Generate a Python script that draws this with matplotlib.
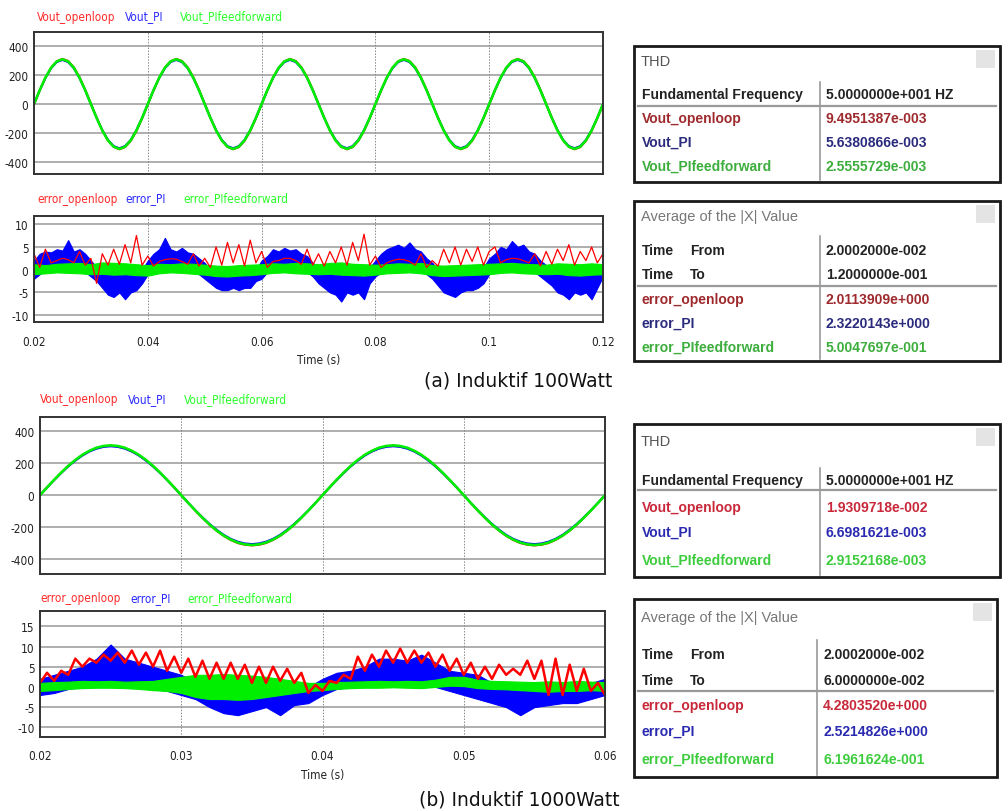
import os
import numpy as np
import matplotlib
matplotlib.use("Agg")
import matplotlib.pyplot as plt
from matplotlib import font_manager
from matplotlib.font_manager import FontProperties
from matplotlib.patches import Rectangle
from matplotlib.lines import Line2D

W, H = 1008, 812

# ---------------- data: (a) Induktif 100Watt ----------------
# output voltage, sampled every 1 ms from 0.020 s to 0.120 s
vout_openloop_a = [
    -3, 93, 182, 252, 297, 314, 299, 256, 187, 100, 3, -93, -182, -252, -297, -314, -299, -256, -187, -100,
    -3, 93, 182, 252, 297, 314, 299, 256, 187, 100, 3, -93, -182, -252, -297, -314, -299, -256, -187, -100,
    -3, 93, 182, 252, 297, 314, 299, 256, 187, 100, 3, -93, -182, -252, -297, -314, -299, -256, -187, -100,
    -3, 93, 182, 252, 297, 314, 299, 256, 187, 100, 3, -93, -182, -252, -297, -314, -299, -256, -187, -100,
    -3, 93, 182, 252, 297, 314, 299, 256, 187, 100, 3, -93, -182, -252, -297, -314, -299, -256, -187, -100,
    -3]
vout_pi_a = [
    0, 95, 180, 248, 291, 306, 291, 248, 180, 95, 0, -95, -180, -248, -291, -306, -291, -248, -180, -95,
    0, 95, 180, 248, 291, 306, 291, 248, 180, 95, 0, -95, -180, -248, -291, -306, -291, -248, -180, -95,
    0, 95, 180, 248, 291, 306, 291, 248, 180, 95, 0, -95, -180, -248, -291, -306, -291, -248, -180, -95,
    0, 95, 180, 248, 291, 306, 291, 248, 180, 95, 0, -95, -180, -248, -291, -306, -291, -248, -180, -95,
    0, 95, 180, 248, 291, 306, 291, 248, 180, 95, 0, -95, -180, -248, -291, -306, -291, -248, -180, -95,
    0]
vout_piff_a = [
    0, 96, 183, 252, 296, 311, 296, 252, 183, 96, 0, -96, -183, -252, -296, -311, -296, -252, -183, -96,
    0, 96, 183, 252, 296, 311, 296, 252, 183, 96, 0, -96, -183, -252, -296, -311, -296, -252, -183, -96,
    0, 96, 183, 252, 296, 311, 296, 252, 183, 96, 0, -96, -183, -252, -296, -311, -296, -252, -183, -96,
    0, 96, 183, 252, 296, 311, 296, 252, 183, 96, 0, -96, -183, -252, -296, -311, -296, -252, -183, -96,
    0, 96, 183, 252, 296, 311, 296, 252, 183, 96, 0, -96, -183, -252, -296, -311, -296, -252, -183, -96,
    0]

error_openloop_a = [
    3.5, 0.5, 4.5, 1.5, 2.0, 2.5, 2.2, 1.5, 4.0, 1.0,
    2.5, -3.0, 3.5, 1.0, 4.5, 1.2, 5.5, 1.5, 7.5, 1.0,
    3.0, 0.8, 1.8, 2.2, 2.4, 2.3, 1.8, 1.2, 3.5, 0.8,
    2.5, 0.5, 5.0, 1.0, 6.0, 1.5, 5.5, 0.8, 6.5, 1.5,
    4.0, 0.5, 1.8, 2.0, 2.5, 2.5, 2.0, 1.2, 4.5, 1.0,
    3.5, 0.8, 4.0, 1.5, 5.0, 1.0, 6.0, 2.0, 7.8, 1.0,
    3.0, 0.5, 1.5, 2.0, 2.3, 2.2, 1.8, 1.0, 3.5, 0.5,
    2.0, 0.8, 4.5, 1.5, 5.0, 1.0, 4.5, 1.8, 5.0, 1.0,
    4.0, 5.0, 1.5, 2.2, 2.5, 2.4, 2.0, 1.5, 3.5, 0.8,
    4.0, 1.2, 4.5, 2.0, 5.5, 1.0, 4.0, 2.0, 5.0, 1.5,
    3.5]
# error_PI band (upper / lower envelope), every 1 ms
error_pi_a_hi = [
    2.0, 3.5, 4.0, 3.8, 4.5, 4.2, 6.5, 4.0, 4.5, 3.5,
    2.0, 0.5, -0.5, -1.0, -0.8, -1.2, -1.0, -0.5, -1.0, 0.0,
    2.0, 3.5, 4.5, 7.0, 4.5, 4.0, 4.8, 3.8, 3.5, 2.5,
    1.5, 0.0, -0.5, -1.0, -0.8, -1.2, -1.0, -0.8, -1.0, 0.0,
    2.0, 3.0, 4.5, 4.0, 4.8, 4.2, 4.5, 3.5, 3.0, 1.5,
    0.5, -0.5, -0.8, -1.2, -1.0, -1.2, -0.8, -1.0, -0.5, 0.5,
    2.0, 3.5, 4.5, 5.0, 5.5, 4.8, 6.0, 4.5, 4.0, 2.5,
    1.5, 0.0, -0.5, -1.0, -0.8, -1.2, -1.0, -0.5, -0.8, 0.5,
    2.5, 3.5, 5.0, 4.5, 6.3, 5.0, 5.5, 4.0, 3.5, 2.0,
    1.0, -0.5, -0.8, -1.0, -1.2, -0.8, -1.0, -0.5, -0.8, 0.0,
    1.0]
error_pi_a_lo = [
    -2.0, -1.0, 0.0, 0.5, 0.8, 1.0, 0.8, 0.5, 0.5, -0.5,
    -1.5, -2.5, -4.0, -5.5, -6.0, -5.0, -6.5, -5.0, -4.5, -3.0,
    -1.0, 0.0, 0.5, 0.8, 1.0, 1.0, 0.8, 0.5, -0.5, -1.0,
    -2.0, -3.0, -4.0, -4.5, -4.5, -4.0, -4.5, -4.0, -4.0, -2.5,
    -2.0, -0.5, 0.0, 0.5, 1.0, 1.0, 0.8, 0.5, -0.5, -1.5,
    -3.0, -4.0, -5.0, -5.5, -7.0, -5.0, -5.5, -5.0, -6.5, -3.0,
    -1.5, -0.5, 0.5, 0.8, 1.0, 1.0, 1.0, 0.5, 0.0, -1.0,
    -2.0, -3.5, -5.0, -5.5, -6.0, -5.0, -4.5, -4.5, -4.0, -3.0,
    -1.0, 0.0, 0.5, 0.8, 1.0, 1.0, 0.8, 0.5, -0.5, -1.5,
    -2.5, -3.5, -5.0, -5.5, -6.5, -5.0, -5.5, -5.0, -6.5, -4.0,
    -1.5]
# error_PIfeedforward band, every 2 ms
error_piff_a_hi = [
    1.2, 1.0, 1.3, 1.4, 1.5, 1.2, 1.6, 1.5, 1.4, 1.2, 1.0,
    1.3, 1.2, 1.4, 1.3, 1.1, 0.9, 0.8, 1.0, 1.1, 1.2,
    1.4, 1.3, 1.5, 1.4, 1.2, 1.5, 1.6, 1.3, 1.2, 1.1,
    1.2, 1.4, 1.3, 1.5, 1.0, 0.9, 1.0, 1.1, 1.2, 1.3,
    1.4, 1.5, 1.3, 1.2, 1.1, 1.4, 1.3, 1.2, 1.4, 1.2]
error_piff_a_lo = [
    -1.0, -0.8, -0.6, -0.7, -0.8, -1.0, -0.9, -1.1, -1.0, -1.2, -1.3,
    -0.8, -0.6, -0.7, -0.9, -1.1, -1.4, -1.5, -1.3, -1.2, -1.0,
    -0.7, -0.6, -0.8, -0.9, -1.0, -0.9, -1.1, -1.2, -1.3, -1.1,
    -0.8, -0.7, -0.6, -0.8, -1.2, -1.4, -1.3, -1.2, -1.1, -1.0,
    -0.7, -0.6, -0.8, -0.9, -1.0, -0.9, -1.2, -1.3, -1.1, -1.0]

# ---------------- data: (b) Induktif 1000Watt ----------------
# output voltage, sampled every 0.5 ms from 0.020 s to 0.060 s
vout_openloop_b = [
    0, 48, 95, 140, 182, 219, 250, 275, 294, 305, 309, 305, 294, 275, 250, 219, 182, 140, 95, 48,
    0, -49, -97, -142, -185, -222, -254, -280, -299, -310, -314, -310, -299, -280, -254, -222, -185, -142, -97, -49,
    0, 48, 95, 140, 182, 219, 250, 275, 294, 305, 309, 305, 294, 275, 250, 219, 182, 140, 95, 48,
    0, -49, -97, -142, -185, -222, -254, -280, -299, -310, -314, -310, -299, -280, -254, -222, -185, -142, -97, -49,
    0]
vout_pi_b = [
    0, 48, 94, 138, 179, 215, 247, 272, 290, 301, 305, 301, 290, 272, 247, 215, 179, 138, 94, 48,
    0, -48, -94, -138, -179, -215, -247, -272, -290, -301, -305, -301, -290, -272, -247, -215, -179, -138, -94, -48,
    0, 48, 94, 138, 179, 215, 247, 272, 290, 301, 305, 301, 290, 272, 247, 215, 179, 138, 94, 48,
    0, -48, -94, -138, -179, -215, -247, -272, -290, -301, -305, -301, -290, -272, -247, -215, -179, -138, -94, -48,
    0]
vout_piff_b = [
    0, 49, 96, 141, 183, 220, 252, 277, 296, 307, 311, 307, 296, 277, 252, 220, 183, 141, 96, 49,
    0, -49, -96, -141, -183, -220, -252, -277, -296, -307, -311, -307, -296, -277, -252, -220, -183, -141, -96, -49,
    0, 49, 96, 141, 183, 220, 252, 277, 296, 307, 311, 307, 296, 277, 252, 220, 183, 141, 96, 49,
    0, -49, -96, -141, -183, -220, -252, -277, -296, -307, -311, -307, -296, -277, -252, -220, -183, -141, -96, -49,
    0]

# error_openloop, every 0.5 ms
error_openloop_b = [
    1.0, 3.5, 1.5, 4.0, 3.0, 7.0, 5.0, 7.0, 6.0, 8.0,
    6.5, 8.5, 6.0, 9.0, 5.5, 8.5, 5.0, 9.0, 4.0, 7.5,
    3.5, 7.0, 2.5, 6.5, 2.0, 6.0, 2.0, 6.0, 2.0, 5.5,
    1.0, 5.0, 1.0, 5.0, 1.5, 4.5, 1.0, 3.5, -1.5, 0.5,
    -1.0, 1.5, 1.0, 3.0, 2.0, 7.5, 4.0, 8.0, 5.0, 9.0,
    6.0, 9.5, 6.0, 9.0, 6.0, 8.5, 5.0, 8.0, 4.0, 7.0,
    3.0, 6.0, 2.0, 5.0, 2.0, 5.5, 3.0, 4.5, 3.0, 6.5,
    2.0, 6.5, -2.0, 7.0, -2.0, 5.5, -1.0, 4.5, -1.0, 1.0,
    -2.0]
# error_PI band, every 1 ms
error_pi_b_hi = [
    2.0, 3.0, 4.0, 5.0, 7.0, 10.5, 7.0, 6.0, 5.0, 4.0,
    3.0, 1.0, 0.0, -1.0, -1.0, -1.5, -1.5, -1.5, -1.0, 0.0,
    2.0, 3.5, 4.0, 5.0, 7.0, 7.0, 6.5, 8.0, 6.0, 4.0,
    3.5, 3.0, 1.0, 0.0, -1.0, -1.0, -1.0, -1.0, 0.0, 1.0,
    2.0]
error_pi_b_lo = [
    -2.0, -1.5, -0.5, 0.0, 1.0, 1.0, 0.0, 0.0, -0.5, -1.0,
    -2.0, -3.0, -5.0, -6.5, -7.0, -6.0, -5.0, -7.0, -4.5, -4.0,
    -2.0, -0.5, 0.0, 0.0, 1.0, 1.0, 1.0, 0.0, 0.0, -1.0,
    -2.0, -3.0, -4.0, -5.0, -7.0, -5.0, -4.5, -4.0, -4.0, -3.0,
    -2.0]
# error_PIfeedforward band, every 1 ms
error_piff_b_hi = [
    1.0, 1.2, 1.3, 1.5, 1.4, 1.5, 1.3, 1.4, 1.5, 2.0,
    2.5, 3.0, 3.0, 3.2, 3.0, 2.8, 2.5, 2.0, 1.5, 1.0,
    1.0, 1.2, 1.3, 1.4, 1.5, 1.4, 1.5, 1.4, 1.8, 2.5,
    2.5, 1.8, 1.5, 1.4, 1.3, 1.2, 1.4, 1.2, 1.5, 1.3,
    1.2]
error_piff_b_lo = [
    -1.0, -0.8, -0.5, -0.3, -0.2, -0.2, -0.3, -0.5, -0.8, -1.0,
    -1.5, -2.5, -3.0, -3.0, -3.2, -3.0, -2.5, -2.0, -1.5, -1.0,
    -0.8, -0.5, -0.3, -0.2, -0.2, -0.1, -0.2, -0.3, 0.0, 0.3,
    0.2, -0.3, -0.5, -0.6, -0.8, -1.0, -1.2, -1.0, -1.0, -0.8,
    -1.0]

vout_names = ["Vout_openloop", "Vout_PI", "Vout_PIfeedforward"]
error_names = ["error_openloop", "error_PI", "error_PIfeedforward"]

xticks_a = [0.02, 0.04, 0.06, 0.08, 0.1, 0.12]
xticklabels_a = ["0.02", "0.04", "0.06", "0.08", "0.1", "0.12"]
xticks_b = [0.02, 0.03, 0.04, 0.05, 0.06]
xticklabels_b = ["0.02", "0.03", "0.04", "0.05", "0.06"]
vticks = [400, 200, 0, -200, -400]
eticks_a = [10, 5, 0, -5, -10]
eticks_b = [15, 10, 5, 0, -5, -10]

thd_a = ["5.0000000e+001 HZ", "9.4951387e-003", "5.6380866e-003", "2.5555729e-003"]
avg_a = ["2.0002000e-002", "1.2000000e-001", "2.0113909e+000", "2.3220143e+000", "5.0047697e-001"]
thd_b = ["5.0000000e+001 HZ", "1.9309718e-002", "6.6981621e-003", "2.9152168e-003"]
avg_b = ["2.0002000e-002", "6.0000000e-002", "4.2803520e+000", "2.5214826e+000", "6.1961624e-001"]

# ---------------- fonts ----------------
names = {f.name for f in font_manager.fontManager.ttflist}
TABLE = "Liberation Sans" if "Liberation Sans" in names else "DejaVu Sans"


def find_narrow():
    prefs = ["liberationsansnarrow-regular", "dejavusanscondensed.", "robotocondensed-regular",
             "opensans-condregular", "opensanscondensed-regular", "notosans-condensed."]
    files = [f.fname for f in font_manager.fontManager.ttflist]
    for p in prefs:
        for fn in files:
            if os.path.basename(fn).lower().startswith(p):
                return fn
    for fn in files:
        b = os.path.basename(fn).lower()
        if ("narrow" in b or "condensed" in b) and not any(k in b for k in ("bold", "italic", "oblique", "light", "thin", "black", "medium", "semi", "extra")):
            return fn
    return None


NARROW_FILE = find_narrow()


def nfont(size):
    if NARROW_FILE:
        return FontProperties(fname=NARROW_FILE, size=size)
    return FontProperties(family=TABLE, size=size - 1.0)


SMALL = 8.5

RED, BLUE, GREEN = "#ff0000", "#0000ff", "#00ee00"
LEG = ["#ff2a2a", "#2a2aff", "#2aff2a"]

fig = plt.figure(figsize=(W / 100, H / 100), dpi=100)


def rect(l, t, r, b):
    return [l / W, 1 - b / H, (r - l) / W, (b - t) / H]


def style_axes(ax, xlim, ylim, xticks, yticks, show_x):
    ax.set_xlim(*xlim)
    ax.set_ylim(*ylim)
    ax.set_xticks(xticks)
    ax.set_yticks(yticks)
    ax.set_yticklabels([str(v) for v in yticks], fontproperties=nfont(SMALL), color="#222")
    ax.tick_params(length=0, pad=4)
    for s in ax.spines.values():
        s.set_color("#333333")
        s.set_linewidth(1.4)
    for v in yticks:
        ax.axhline(v, color="#a8a8a8", lw=1.3, zorder=0)
    for v in xticks[1:-1]:
        ax.axvline(v, color="#888888", lw=0.7, ls=(0, (1.5, 1.5)), zorder=0)
    if not show_x:
        ax.set_xticklabels([])


def legend_row(y, xs, labels):
    for x, lab, c in zip(xs, labels, LEG):
        fig.text(x / W, 1 - y / H, lab, color=c, fontproperties=nfont(SMALL),
                 va="center", ha="left")


# --- (a) voltage
t_a1 = 0.020 + 0.001 * np.arange(len(vout_piff_a))
ax1 = fig.add_axes(rect(34, 33, 603, 175))
style_axes(ax1, (0.02, 0.12), (-485, 500), xticks_a, vticks, False)
ax1.plot(t_a1, vout_openloop_a, color=RED, lw=1.4)
ax1.plot(t_a1, vout_pi_a, color=BLUE, lw=1.4)
ax1.plot(t_a1, vout_piff_a, color=GREEN, lw=1.9)
legend_row(17, [37, 125, 180], vout_names)

# --- (a) error
t_a2 = 0.020 + 0.001 * np.arange(len(error_openloop_a))
t_a2b = 0.020 + 0.001 * np.arange(len(error_pi_a_hi))
t_a2g = 0.020 + 0.002 * np.arange(len(error_piff_a_hi))
ax2 = fig.add_axes(rect(34, 217, 603, 323))
style_axes(ax2, (0.02, 0.12), (-11.5, 11.8), xticks_a, eticks_a, True)
ax2.fill_between(t_a2b, error_pi_a_lo, error_pi_a_hi, color=BLUE, lw=0.8)
ax2.plot(t_a2, error_openloop_a, color=RED, lw=0.9)
ax2.fill_between(t_a2g, error_piff_a_lo, error_piff_a_hi, color=GREEN, lw=0.8)
ax2.set_xticklabels(xticklabels_a, fontproperties=nfont(SMALL), color="#222")
ax2.tick_params(axis="x", pad=9)
ax2.set_xlabel("Time (s)", fontproperties=nfont(SMALL), color="#222", labelpad=4)
legend_row(199, [37, 125, 183], error_names)

fig.text(612 / W, 1 - 381 / H, "(a) Induktif 100Watt", fontsize=13.5,
         family="DejaVu Sans", ha="right", va="center", color="#111")

# --- (b) voltage
t_b1 = 0.020 + 0.0005 * np.arange(len(vout_piff_b))
ax3 = fig.add_axes(rect(40, 418, 605, 575))
style_axes(ax3, (0.02, 0.06), (-492, 488), xticks_b, vticks, False)
ax3.plot(t_b1, vout_openloop_b, color=RED, lw=1.4)
ax3.plot(t_b1, vout_pi_b, color=BLUE, lw=1.4)
ax3.plot(t_b1, vout_piff_b, color=GREEN, lw=1.9)
legend_row(400, [40, 128, 184], vout_names)

# --- (b) error
t_b2 = 0.020 + 0.0005 * np.arange(len(error_openloop_b))
t_b2b = 0.020 + 0.001 * np.arange(len(error_pi_b_hi))
ax4 = fig.add_axes(rect(40, 612, 605, 738))
style_axes(ax4, (0.02, 0.06), (-12.4, 18.8), xticks_b, eticks_b, True)
ax4.fill_between(t_b2b, error_pi_b_lo, error_pi_b_hi, color=BLUE, lw=0.8)
ax4.plot(t_b2, error_openloop_b, color=RED, lw=1.8)
ax4.fill_between(t_b2b, error_piff_b_lo, error_piff_b_hi, color=GREEN, lw=0.8)
ax4.set_xticklabels(xticklabels_b, fontproperties=nfont(SMALL), color="#222")
ax4.tick_params(axis="x", pad=9)
ax4.set_xlabel("Time (s)", fontproperties=nfont(SMALL), color="#222", labelpad=4)
legend_row(599, [40, 130, 187], error_names)

fig.text(620 / W, 1 - 800 / H, "(b) Induktif 1000Watt", fontsize=13.5,
         family="DejaVu Sans", ha="right", va="center", color="#111")


# ---------------- tables ----------------
def ftxt(x, y, s, **kw):
    fig.text(x / W, 1 - y / H, s, va="center", ha="left", family=TABLE, **kw)


def fline(x0, y0, x1, y1, **kw):
    fig.add_artist(Line2D([x0 / W, x1 / W], [1 - y0 / H, 1 - y1 / H],
                          transform=fig.transFigure, **kw))


def box(l, t, r, b):
    fig.add_artist(Rectangle((l / W, 1 - b / H), (r - l) / W, (b - t) / H,
                             transform=fig.transFigure, facecolor="white",
                             edgecolor="#1a1a1a", lw=2.0))
    fig.add_artist(Rectangle(((r - 24) / W, 1 - (t + 22) / H), 19 / W, 18 / H,
                             transform=fig.transFigure, facecolor="#e4e4e4",
                             edgecolor="none"))


def thd_table(l, t, r, b, title_y, head_y, line_y, rows_y, sep_x, vals, cols):
    box(l, t, r, b)
    ftxt(l + 7, title_y, "THD", fontsize=10.5, color="#555555")
    fline(sep_x, head_y - 12, sep_x, b - 2, color="#9a9a9a", lw=1.2)
    fline(l + 4, line_y, r - 4, line_y, color="#9a9a9a", lw=1.6)
    ftxt(l + 8, head_y, "Fundamental Frequency", fontsize=10, weight="bold", color="#222")
    ftxt(sep_x + 6, head_y, vals[0], fontsize=10, weight="bold", color="#222")
    for y, n, v, c in zip(rows_y, vout_names, vals[1:], cols):
        ftxt(l + 8, y, n, fontsize=10, weight="bold", color=c)
        ftxt(sep_x + 6, y, v, fontsize=10, weight="bold", color=c)


def avg_table(l, t, r, b, title_y, from_y, to_y, line_y, rows_y, sep_x, vals, cols):
    box(l, t, r, b)
    ftxt(l + 7, title_y, "Average of the |X| Value", fontsize=10.5, color="#777777")
    fline(sep_x, from_y - 14, sep_x, b - 2, color="#9a9a9a", lw=1.2)
    fline(l + 4, line_y, r - 4, line_y, color="#9a9a9a", lw=1.6)
    ftxt(l + 8, from_y, "Time", fontsize=10, weight="bold", color="#222")
    ftxt(l + 56, from_y, "From", fontsize=10, weight="bold", color="#222")
    ftxt(l + 8, to_y, "Time", fontsize=10, weight="bold", color="#222")
    ftxt(l + 56, to_y, "To", fontsize=10, weight="bold", color="#222")
    ftxt(sep_x + 6, from_y, vals[0], fontsize=10, weight="bold", color="#222")
    ftxt(sep_x + 6, to_y, vals[1], fontsize=10, weight="bold", color="#222")
    for y, n, v, c in zip(rows_y, error_names, vals[2:], cols):
        ftxt(l + 8, y, n, fontsize=10, weight="bold", color=c)
        ftxt(sep_x + 6, y, v, fontsize=10, weight="bold", color=c)


cols_a = ["#9e2a2e", "#2b2b7e", "#3dae3d"]
cols_b = ["#c8283a", "#2a2ab0", "#3dcc3d"]
thd_table(634, 47, 1000, 183, 62, 95, 107, [119, 143, 167], 820, thd_a, cols_a)
avg_table(634, 202, 1000, 362, 217, 251, 275, 287, [300, 324, 348], 820, avg_a, cols_a)
thd_table(634, 425, 1000, 578, 442, 481, 491, [508, 533, 561], 820, thd_b, cols_b)
avg_table(634, 600, 997, 778, 618, 655, 681, 692, [706, 732, 760], 817, avg_b, cols_b)

fig.savefig("out.png", dpi=100, facecolor="white")
